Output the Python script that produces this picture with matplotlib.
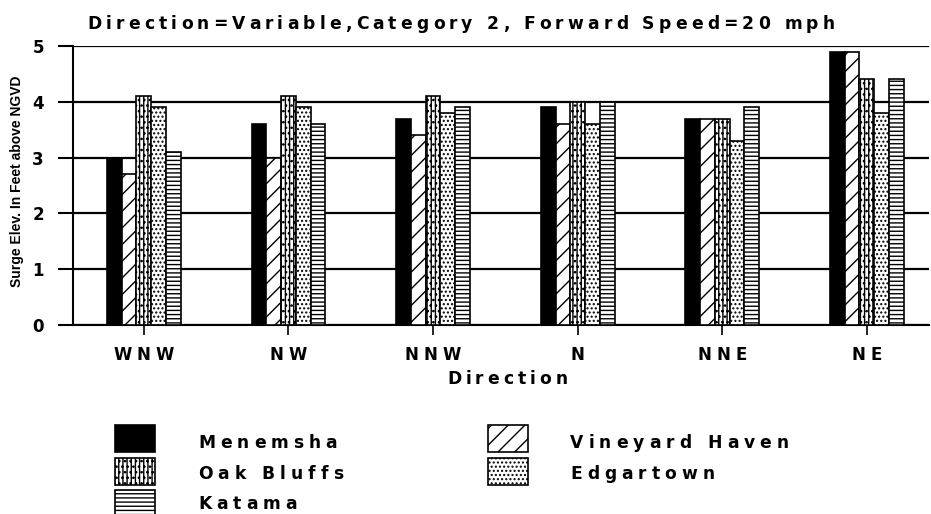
import numpy as np
import matplotlib
matplotlib.use("Agg")
from matplotlib import pyplot as plt
from matplotlib.patches import Rectangle

plt.rcParams['font.family'] = ['DejaVu Sans']
plt.rcParams['hatch.linewidth'] = 1.0

directions = ["WNW", "NW", "NNW", "N", "NNE", "NE"]
menemsha = [3.0, 3.6, 3.7, 3.9, 3.7, 4.9]
vineyard_haven = [2.7, 3.0, 3.4, 3.6, 3.7, 4.9]
oak_bluffs = [4.1, 4.1, 4.1, 4.0, 3.7, 4.4]
edgartown = [3.9, 3.9, 3.8, 3.6, 3.3, 3.8]
katama = [3.1, 3.6, 3.9, 4.0, 3.9, 4.4]
title = "Direction=Variable,Category 2, Forward Speed=20 mph"
ylabel = "Surge Elev. In Feet above NGVD"

series = [
    ("Menemsha", menemsha, dict(facecolor="black", hatch=None)),
    ("Vineyard Haven", vineyard_haven, dict(facecolor="white", hatch="//")),
    ("Oak Bluffs", oak_bluffs, dict(facecolor="white", hatch="||||...")),
    ("Edgartown", edgartown, dict(facecolor="white", hatch="....")),
    ("Katama", katama, dict(facecolor="white", hatch="----")),
]

W, H = 931, 514
fig = plt.figure(figsize=(W/100, H/100), dpi=100)
ax = fig.add_axes([73/W, 1-325/H, 856/W, 279/H])
rend = fig.canvas.get_renderer()


def spaced_text(s, x, y, track=0, width=None, ha="left", **kw):
    # draw text letter by letter, x/y in pixels (y from top, baseline)
    def w(t):
        tt = fig.text(0, 0, t, **kw)
        ww = tt.get_window_extent(rend).width
        tt.remove()
        return ww
    base = w("xx")
    adv = [w("x" + c + "x") - base for c in s]
    if width is not None:
        track = (width - sum(adv)) / (len(s) - 1)
    total = sum(adv) + track * (len(s) - 1)
    if ha == "center":
        x = x - total / 2
    for c, a in zip(s, adv):
        fig.text(x / W, 1 - y / H, c, va="baseline", ha="left", **kw)
        x += a + track


x = np.arange(len(directions))
bw = 0.102
for i, (name, vals, st) in enumerate(series):
    ax.bar(x + (i - 2) * bw, vals, bw, edgecolor="black", linewidth=1.2, zorder=3, **st)

ax.set_xlim(-0.49, 5.43)
ax.set_ylim(0, 5)
ax.set_yticks([0, 1, 2, 3, 4, 5])
ax.set_xticks(x)
ax.tick_params(axis="x", length=7, width=1.2, direction="out", labelbottom=False)
ax.tick_params(axis="y", length=11, width=1.5, direction="out", pad=10)
for lab in ax.get_yticklabels():
    lab.set_fontsize(12)
    lab.set_fontweight("bold")
ax.yaxis.grid(True, color="black", linewidth=1.6, zorder=0)
ax.set_axisbelow(True)
for s in ["top", "right"]:
    ax.spines[s].set_visible(False)
ax.spines["left"].set_linewidth(1.5)
ax.spines["bottom"].set_linewidth(1.5)

# x tick labels, letter-spaced
for xi, d in zip(x, directions):
    px = ax.transData.transform((xi, 0))[0]
    spaced_text(d, px, 360, track=5, ha="center", fontsize=12, fontweight="bold")

spaced_text("Direction", 447, 384, track=4, fontsize=12.3, fontweight="bold")
spaced_text(title, 461, 29, width=747, ha="center", fontsize=12.3, fontweight="bold")

fig.text(17 / W, 1 - 181 / H, ylabel, rotation=90, ha="center", va="center",
         fontsize=10, fontweight="bold",
         family=["Liberation Sans Narrow", "Liberation Sans"])

# legend, two columns filled down
col_box = [115, 488]
col_txt = [198, 570]
row_top = [425, 458, 490]
row_base = [448, 479, 509]
for i, (name, vals, st) in enumerate(series):
    c, r = i % 2, i // 2
    fig.patches.append(Rectangle((col_box[c] / W, 1 - (row_top[r] + 27) / H), 40 / W, 27 / H,
                                 transform=fig.transFigure, edgecolor="black",
                                 linewidth=1.2, **st))
    spaced_text(name, col_txt[c], row_base[r], track=5, fontsize=12.3, fontweight="bold")

fig.savefig("out.png", dpi=100)
